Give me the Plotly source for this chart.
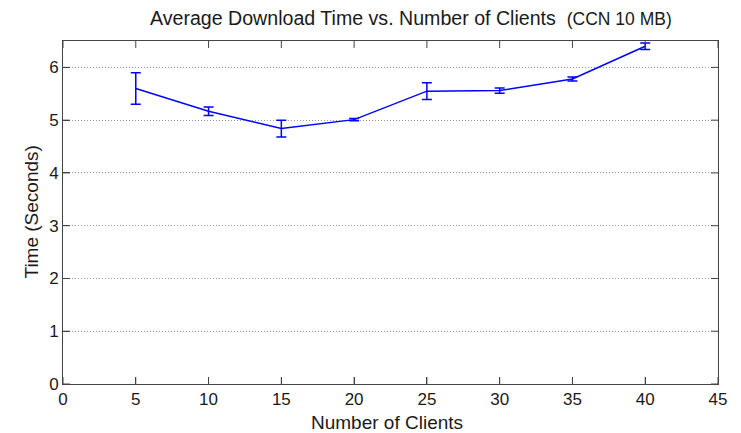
import plotly.graph_objects as go

clients = [5, 10, 15, 20, 25, 30, 35, 40]
avg_time = [5.60, 5.17, 4.84, 5.01, 5.55, 5.56, 5.78, 6.40]
err = [0.30, 0.08, 0.16, 0.02, 0.16, 0.05, 0.04, 0.06]

x_ticks = [0, 5, 10, 15, 20, 25, 30, 35, 40, 45]
y_ticks = [0, 1, 2, 3, 4, 5, 6]

fig = go.Figure()
fig.add_trace(go.Scatter(
    x=clients, y=avg_time, mode="lines",
    line=dict(color="#0000ff", width=1.5),
    error_y=dict(type="data", array=err, visible=True, color="#0000ff", thickness=1.5, width=5),
    showlegend=False,
))

font = "Liberation Sans, Arial, sans-serif"
txt = "#1a1a1a"
axc = "#444"
TL = 7  # tick length in px

# inside tick marks on all four sides, positioned by the axes from the tick lists
tick_shapes = []
for v in x_ticks:
    for anchor, d in ((0, TL), (1, -TL)):
        tick_shapes.append(dict(type="line", xref="x", yref="paper", ysizemode="pixel",
                                yanchor=anchor, x0=v, x1=v, y0=0, y1=d,
                                line=dict(color=axc, width=1)))
for v in y_ticks:
    for anchor, d in ((0, TL), (1, -TL)):
        tick_shapes.append(dict(type="line", yref="y", xref="paper", xsizemode="pixel",
                                xanchor=anchor, y0=v, y1=v, x0=0, x1=d,
                                line=dict(color=axc, width=1)))

fig.update_layout(
    width=733, height=425,
    margin=dict(l=55, r=23, t=33, b=49),
    paper_bgcolor="white", plot_bgcolor="white",
    font=dict(family=font, size=17, color=txt),
    shapes=tick_shapes,
    annotations=[
        dict(text="Average Download Time vs. Number of Clients  <span style='font-size:17.5px'>(CCN 10 MB)</span>",
             xref="paper", yref="paper", x=0.531, y=1, yanchor="middle", yshift=23,
             showarrow=False, font=dict(size=19.6, family=font, color=txt)),
        dict(text="Number of Clients", xref="paper", yref="paper", x=0.495, y=0,
             yanchor="middle", yshift=-38, showarrow=False,
             font=dict(size=19, family=font, color=txt)),
        dict(text="Time (Seconds)", xref="paper", yref="paper", x=0, y=0.5,
             xanchor="center", xshift=-32, textangle=-90, showarrow=False,
             font=dict(size=19, family=font, color=txt)),
    ],
)
fig.update_layout(
    xaxis=dict(
        range=[0, 45], tickvals=x_ticks, ticktext=[str(v) for v in x_ticks],
        showgrid=False, zeroline=False, showline=True, linecolor=axc, linewidth=1,
        mirror=True, ticks="inside", ticklen=TL, tickcolor=axc, automargin=False,
        tickfont=dict(size=17, color=txt),
    ),
    yaxis=dict(
        range=[0, 6.5], tickvals=y_ticks, ticktext=[str(v) for v in y_ticks],
        showgrid=True, gridcolor="#999", griddash="1px,2px", gridwidth=1,
        zeroline=False, showline=True, linecolor=axc, linewidth=1,
        mirror=True, ticks="inside", ticklen=TL, tickcolor=axc, automargin=False,
        tickfont=dict(size=17, color=txt),
    ),
)
fig.write_html("out.html")
